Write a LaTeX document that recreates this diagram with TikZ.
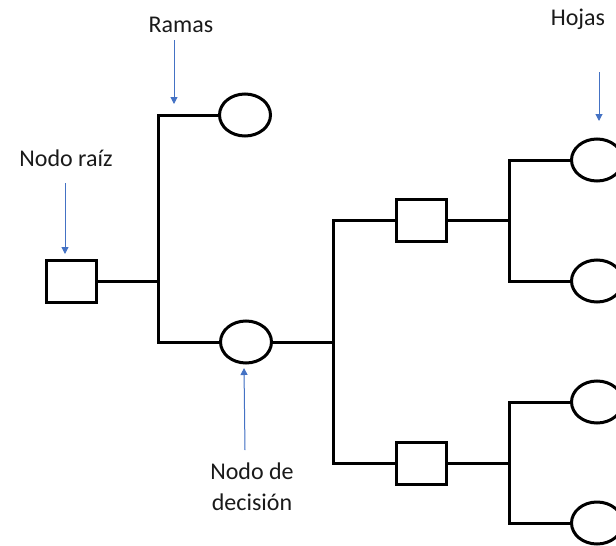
\documentclass[tikz,border=0pt]{standalone}
\usepackage{fontspec}
\setmainfont{Carlito}
\usetikzlibrary{shapes.geometric,arrows.meta}
\definecolor{pointerblue}{HTML}{4472C4}
\definecolor{labeltext}{HTML}{1A1A1A}
\begin{document}
\begin{tikzpicture}[x=1pt,y=-1pt,
  chance/.style={ellipse,draw,line width=3pt,minimum width=51pt,minimum height=42pt,inner sep=0pt},
  choice/.style={rectangle,draw,line width=3pt,minimum width=50pt,minimum height=42pt,inner sep=0pt},
  edge/.style={draw,line width=3pt,line join=miter},
  pointer/.style={draw=pointerblue,line width=1pt,-{Triangle[length=7pt,width=7pt]},fill=pointerblue},
  caption/.style={font=\fontsize{24}{31}\selectfont,text=labeltext,align=center,inner sep=0pt}]
\useasboundingbox (0,0) rectangle (616,546);
\clip (0,0) rectangle (616,546);

% tree nodes
\node[choice] (root) at (71.5,281.5) {};
\node[chance] (top) at (245,115) {};
\node[chance] (dec) at (246,342) {};
\node[choice] (s1) at (421.5,220) {};
\node[choice] (s2) at (421.5,463.5) {};
\node[chance] (l1) at (597,160) {};
\node[chance] (l2) at (597,281) {};
\node[chance] (l3) at (597,402) {};
\node[chance] (l4) at (597,523) {};

% branch junctions
\coordinate (j1) at (158,281.5);
\coordinate (j2) at (333,342);
\coordinate (j3) at (509,220);
\coordinate (j4) at (509,463.5);

% branches
\path[edge] (root.east) -- (j1);
\path[edge] (top.west) -| (j1) |- (dec.west);
\path[edge] (dec.east) -- (j2);
\path[edge] (s1.west) -| (j2) |- (s2.west);
\path[edge] (s1.east) -- (j3);
\path[edge] (l1.west) -| (j3) |- (l2.west);
\path[edge] (s2.east) -- (j4);
\path[edge] (l3.west) -| (j4) |- (l4.west);

% captions
\node[caption] (ramas) at (181,25) {Ramas};
\node[caption] (raiz) at (66,158) {Nodo raíz};
\node[caption] (hojas) at (578,19) {Hojas};
\node[caption] (decision) at (252,487) {Nodo de\\decisión};

% pointer ends
\coordinate (ramasS) at (174,40);
\coordinate (ramasT) at (174,104);
\coordinate (raizS) at (65,183);
\coordinate (raizT) at (65,254);
\coordinate (hojasS) at (599,72);
\coordinate (hojasT) at (599,121);
\coordinate (decS) at (245,450);
\coordinate (decT) at (244,368);

\draw[pointer] (ramasS) -- (ramasT);
\draw[pointer] (raizS) -- (raizT);
\draw[pointer] (hojasS) -- (hojasT);
\draw[pointer] (decS) -- (decT);
\end{tikzpicture}
\end{document}
